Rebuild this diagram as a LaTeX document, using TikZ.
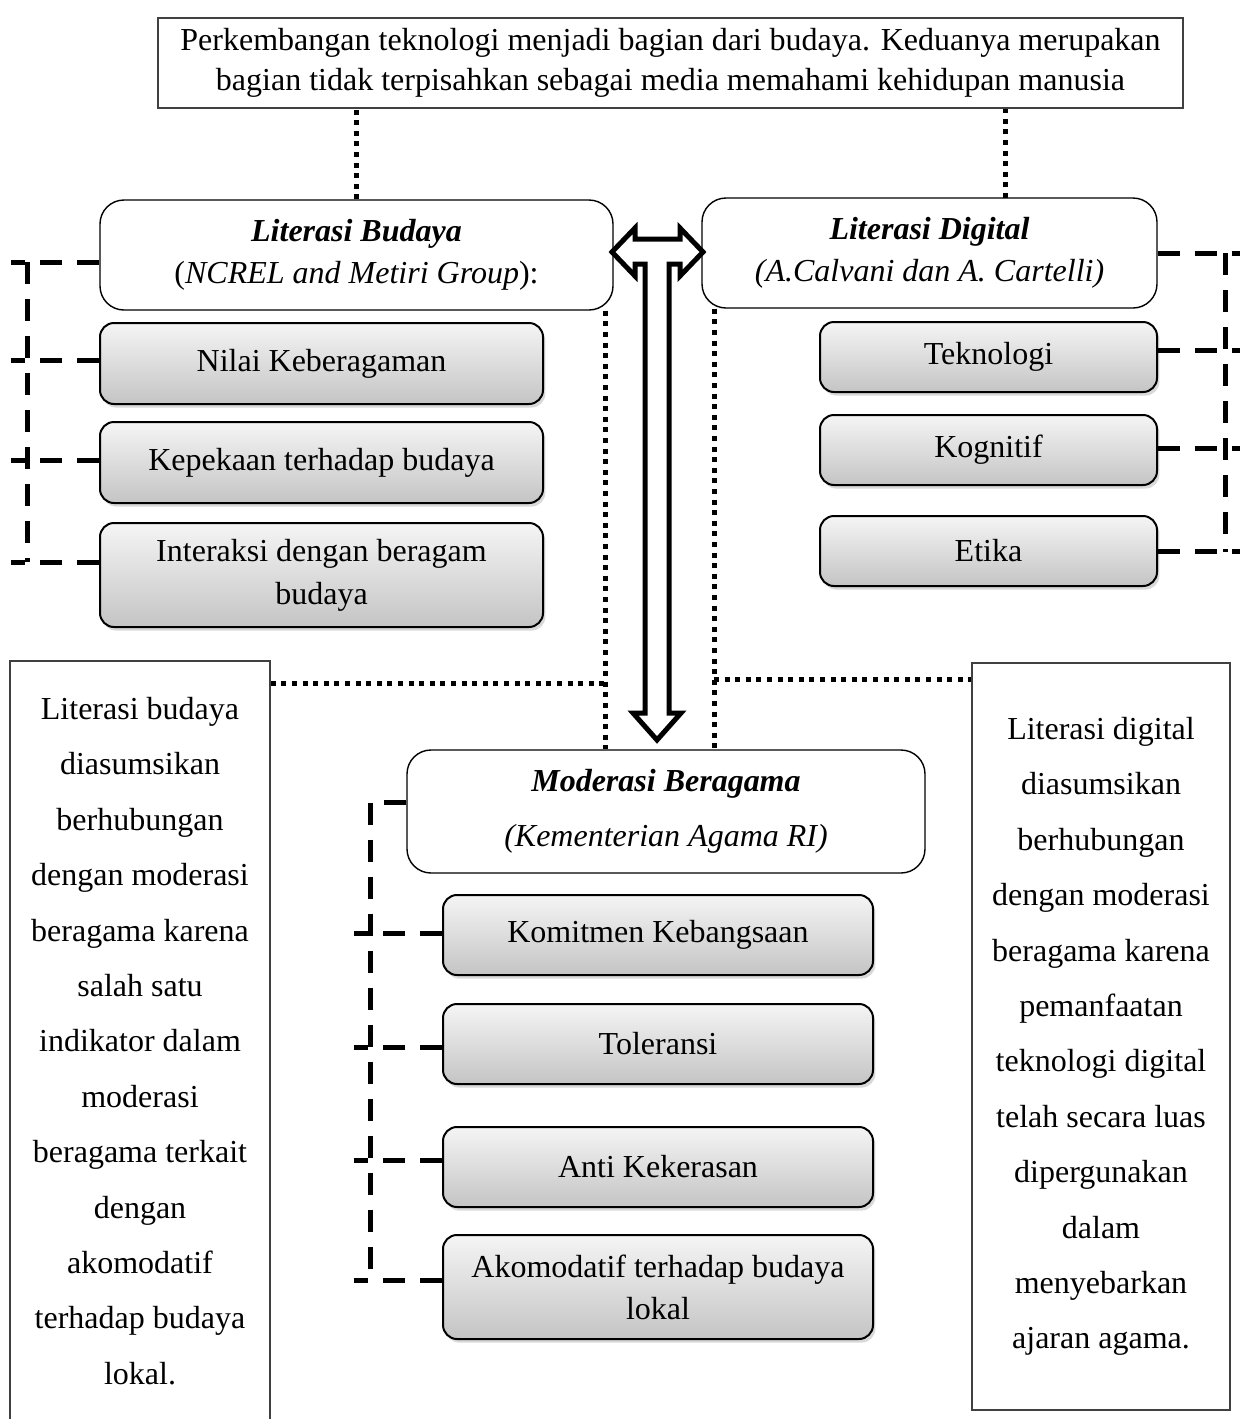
\documentclass[tikz,border=0pt]{standalone}
\usepackage{fontspec}
\setmainfont{Liberation Serif}
\usepackage{tikz}
\usetikzlibrary{positioning,shadows}

\begin{document}
\begin{tikzpicture}[
  x=0.5pt, y=-0.5pt,
  font=\fontsize{16pt}{20pt}\selectfont,
  frame/.style={draw=black!75, line width=0.8pt, align=center, inner sep=4pt},
  head/.style={draw=black, line width=0.7pt, rounded corners=12pt, fill=white, align=center},
  item/.style={draw=black, line width=1pt, rounded corners=7pt, top color=black!4, bottom color=black!23,
               align=center, drop shadow={shadow xshift=1.2pt, shadow yshift=-1.8pt, opacity=0.3}},
  note/.style={frame, font=\fontsize{16pt}{27.7pt}\selectfont, minimum width=130pt},
  dotline/.style={line width=2.5pt, dash pattern=on 2.5pt off 2.8pt},
  bracket/.style={line width=2.5pt, dash pattern=on 11pt off 7.5pt}
]
  \useasboundingbox (0,0) rectangle (1239,1419);

  \node[frame, minimum width=512.5pt, minimum height=45pt] (intro) at (670.5,63)
        {Perkembangan teknologi menjadi bagian dari budaya. Keduanya merupakan\\
         bagian tidak terpisahkan sebagai media memahami kehidupan manusia};

  \node[head, minimum width=256.5pt, minimum height=55pt] (budaya) at (356.5,255)
        {\textbf{\textit{Literasi Budaya}}\\[1pt](\textit{NCREL and Metiri Group}):};
  \node[head, minimum width=227.5pt, minimum height=55pt] (digital) at (929.5,253)
        {\textbf{\textit{Literasi Digital}}\\[1pt]\textit{(A.Calvani dan A. Cartelli)}};

  \node[item, minimum width=221.5pt, minimum height=40.5pt] (nilai)     at (321.5,363.5) {Nilai Keberagaman};
  \node[item, minimum width=221.5pt, minimum height=40.5pt] (kepekaan)  at (321.5,462.5) {Kepekaan terhadap budaya};
  \node[item, minimum width=221.5pt, minimum height=52pt]   (interaksi) at (321.5,575)   {Interaksi dengan beragam\\[1.5pt]budaya};

  \node[item, minimum width=168.5pt, minimum height=35pt] (teknologi) at (988.5,357) {Teknologi};
  \node[item, minimum width=168.5pt, minimum height=35pt] (kognitif)  at (988.5,450) {Kognitif};
  \node[item, minimum width=168.5pt, minimum height=35pt] (etika)     at (988.5,551) {Etika};

  \node[head, minimum width=259pt, minimum height=61.5pt] (moderasi) at (666,811.5)
        {\textbf{\textit{Moderasi Beragama}}\\[7.5pt]\textit{(Kementerian Agama RI)}};

  \node[item, minimum width=215pt, minimum height=40pt] (komitmen)   at (658,935)  {Komitmen Kebangsaan};
  \node[item, minimum width=215pt, minimum height=40pt] (toleransi)  at (658,1044) {Toleransi};
  \node[item, minimum width=215pt, minimum height=40pt] (antikeras)  at (658,1167) {Anti Kekerasan};
  \node[item, minimum width=215pt, minimum height=52pt] (akomodatif) at (658,1287) {Akomodatif terhadap budaya\\[1pt]lokal};

  \node[note, minimum height=380pt] (notebudaya) at (140,1041)
        {Literasi budaya\\diasumsikan\\berhubungan\\dengan moderasi\\beragama karena\\salah satu\\indikator dalam\\
         moderasi\\beragama terkait\\dengan\\akomodatif\\terhadap budaya\\lokal.};
  \node[note, minimum width=129pt, minimum height=373.5pt] (notedigital) at (1101,1036.5)
        {Literasi digital\\diasumsikan\\berhubungan\\dengan moderasi\\beragama karena\\pemanfaatan\\teknologi digital\\
         telah secara luas\\dipergunakan\\dalam\\menyebarkan\\ajaran agama.};

  % dotted links
  \coordinate (dtop) at (1005,198);
  \coordinate (lbj) at (605,683);
  \coordinate (rbj) at (714,679);
  \draw[dotline] (budaya.north) -- (budaya.north |- intro.south);
  \draw[dotline] (dtop) -- (dtop |- intro.south);
  \draw[dotline] (lbj |- budaya.south) -- (lbj |- moderasi.north);
  \draw[dotline] (rbj |- digital.south) -- (rbj |- moderasi.north);
  \draw[dotline] (notebudaya.east |- lbj) -- (lbj);
  \draw[dotline] (rbj) -- (notedigital.west |- rbj);

  % dashed brackets
  \foreach \n/\dy in {budaya/-3.5, nilai/1.75, kepekaan/1.25, interaksi/6.5}
    \draw[bracket] ([yshift=\dy pt]\n.west) -- ++(-88,0);
  \draw[bracket] (27,262) -- (27,562);
  \foreach \n/\dy in {digital/0, teknologi/3.5, kognitif/1, etika/0}
    \draw[bracket] ([yshift=\dy pt]\n.east) -- ++(84,0);
  \draw[bracket] (1225,253) -- (1225,552);
  \draw[bracket] ([yshift=4.75pt]moderasi.west) -- (370,802) -- (370,1280);
  \foreach \n/\dy in {komitmen/1, toleransi/-1.5, antikeras/3.5, akomodatif/3.5}
    \draw[bracket] ([yshift=\dy pt]\n.west) -- ++(-88,0);

  % block arrow
  \draw[line width=2.5pt, fill=white, line join=miter]
    (612,252) -- (635,228) -- (635,239) -- (680,239) -- (680,228) -- (703,252)
    -- (680,276) -- (680,264) -- (669,264) -- (669,713) -- (681,713) -- (657,740)
    -- (633,713) -- (645,713) -- (645,264) -- (635,264) -- (635,276) -- cycle;
\end{tikzpicture}
\end{document}
